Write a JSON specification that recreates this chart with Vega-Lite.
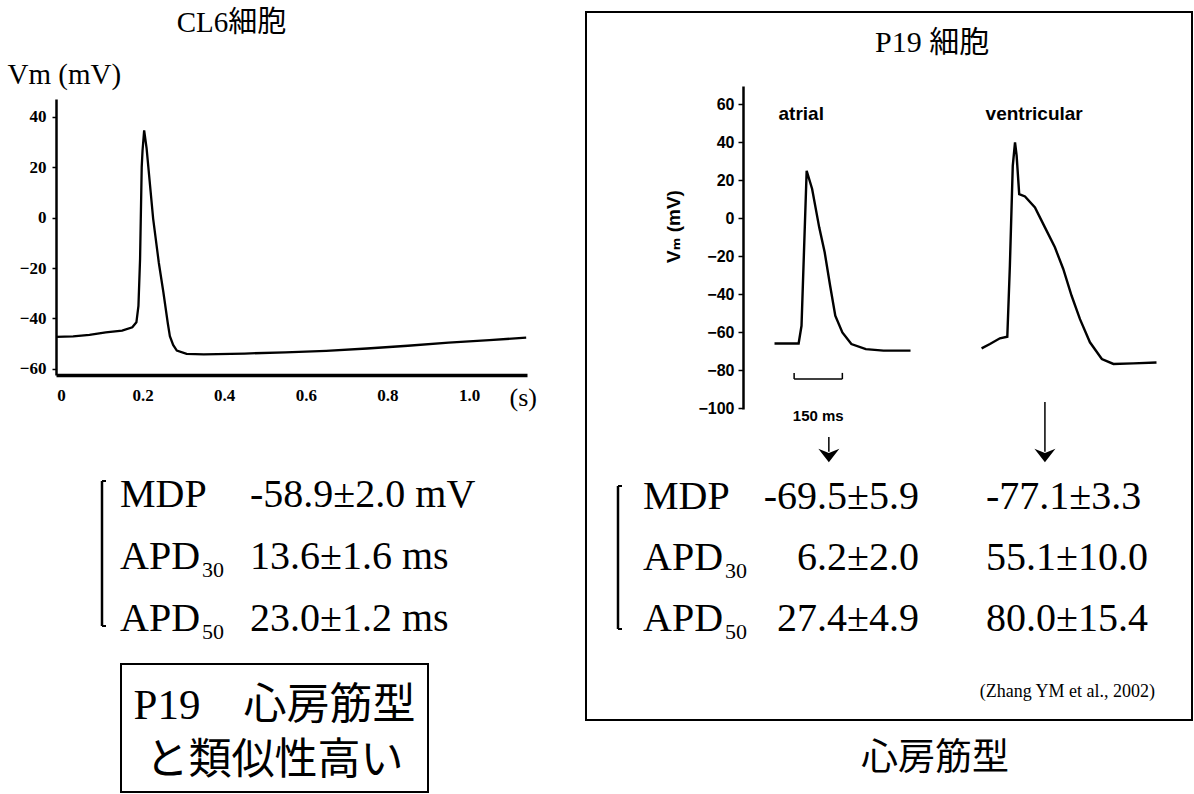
{
  "$schema": "https://vega.github.io/schema/vega-lite/v6.json",
  "padding": {"left": 7, "top": 9, "right": 0, "bottom": 0},
  "background": "white",
  "config": {"view": {"stroke": null}, "text": {"color": "black"}},
  "datasets": {
    "cl6": [
      {"t": -0.012, "v": -47.3}, {"t": 0.03, "v": -47.1}, {"t": 0.07, "v": -46.5}, {"t": 0.11, "v": -45.5},
      {"t": 0.15, "v": -44.8}, {"t": 0.175, "v": -43.5}, {"t": 0.185, "v": -41.5}, {"t": 0.19, "v": -35},
      {"t": 0.194, "v": -16.3}, {"t": 0.198, "v": 20}, {"t": 0.2, "v": 26.5}, {"t": 0.204, "v": 34.6},
      {"t": 0.21, "v": 27.4}, {"t": 0.226, "v": -0.4}, {"t": 0.24, "v": -18}, {"t": 0.251, "v": -29.5},
      {"t": 0.262, "v": -42}, {"t": 0.267, "v": -47}, {"t": 0.275, "v": -50.5}, {"t": 0.284, "v": -52.7},
      {"t": 0.308, "v": -54}, {"t": 0.35, "v": -54.2}, {"t": 0.45, "v": -53.9}, {"t": 0.55, "v": -53.4},
      {"t": 0.65, "v": -52.8}, {"t": 0.75, "v": -51.9}, {"t": 0.85, "v": -50.8}, {"t": 0.95, "v": -49.6},
      {"t": 1.05, "v": -48.6}, {"t": 1.14, "v": -47.6}
    ],
    "p19": [
      {"cell": "atrial", "t": 98, "v": -66}, {"cell": "atrial", "t": 173, "v": -66},
      {"cell": "atrial", "t": 182, "v": -56.7}, {"cell": "atrial", "t": 198, "v": 24.9},
      {"cell": "atrial", "t": 215, "v": 15.3}, {"cell": "atrial", "t": 237, "v": -4.9},
      {"cell": "atrial", "t": 254, "v": -18}, {"cell": "atrial", "t": 271, "v": -35.6},
      {"cell": "atrial", "t": 287, "v": -51.4}, {"cell": "atrial", "t": 309, "v": -60.2},
      {"cell": "atrial", "t": 337, "v": -66.3}, {"cell": "atrial", "t": 382, "v": -69},
      {"cell": "atrial", "t": 437, "v": -69.8}, {"cell": "atrial", "t": 521, "v": -69.8},
      {"cell": "ventricular", "t": 742, "v": -68.6}, {"cell": "ventricular", "t": 768, "v": -66.3},
      {"cell": "ventricular", "t": 799, "v": -63.3}, {"cell": "ventricular", "t": 822, "v": -62.5},
      {"cell": "ventricular", "t": 830, "v": -25.1}, {"cell": "ventricular", "t": 839, "v": 27.5},
      {"cell": "ventricular", "t": 846, "v": 39.8}, {"cell": "ventricular", "t": 851, "v": 32.8},
      {"cell": "ventricular", "t": 859, "v": 12.6}, {"cell": "ventricular", "t": 877, "v": 11.4},
      {"cell": "ventricular", "t": 908, "v": 5.6}, {"cell": "ventricular", "t": 939, "v": -4.9},
      {"cell": "ventricular", "t": 970, "v": -15.4}, {"cell": "ventricular", "t": 996, "v": -26.8},
      {"cell": "ventricular", "t": 1022, "v": -40.9}, {"cell": "ventricular", "t": 1048, "v": -53.2},
      {"cell": "ventricular", "t": 1079, "v": -65.4}, {"cell": "ventricular", "t": 1116, "v": -74.2},
      {"cell": "ventricular", "t": 1152, "v": -76.8}, {"cell": "ventricular", "t": 1214, "v": -76.5},
      {"cell": "ventricular", "t": 1286, "v": -76}
    ],
    "cl6_table": [
      {"param": "MDP", "name": "MDP", "sub": "", "value": "-58.9±2.0 mV"},
      {"param": "APD30", "name": "APD", "sub": "30", "value": "13.6±1.6 ms"},
      {"param": "APD50", "name": "APD", "sub": "50", "value": "23.0±1.2 ms"}
    ],
    "p19_table": [
      {"param": "MDP", "name": "MDP", "sub": "", "atrial": "-69.5±5.9", "ventricular": "-77.1±3.3"},
      {"param": "APD30", "name": "APD", "sub": "30", "atrial": "6.2±2.0", "ventricular": "55.1±10.0"},
      {"param": "APD50", "name": "APD", "sub": "50", "atrial": "27.4±4.9", "ventricular": "80.0±15.4"}
    ]
  },
  "hconcat": [
    {
      "vconcat": [
        {"data": {"values": []}, "mark": "point", "width": 471, "height": 87},
        {
          "width": 471,
          "height": 276,
          "title": {"text": "CL6細胞", "frame": "group", "anchor": "middle", "dx": -60, "offset": -1, "baseline": "alphabetic", "font": "Liberation Serif, Noto Sans CJK JP", "fontSize": 29, "fontWeight": "normal", "color": "black"},
          "data": {"name": "cl6"},
          "mark": {"type": "line", "color": "black", "strokeWidth": 2.3},
          "encoding": {
            "x": {
              "field": "t", "type": "quantitative",
              "scale": {"domain": [-0.012, 1.142], "nice": false, "zero": false},
              "axis": {
                "values": [0, 0.2, 0.4, 0.6, 0.8, 1.0],
                "labelExpr": "datum.value == 0 ? '0' : format(datum.value, '.1f')",
                "ticks": false, "labelPadding": 12, "labelFont": "Liberation Serif", "labelFontSize": 17,
                "labelFontWeight": "bold", "labelColor": "black", "labelFlush": false,
                "domainColor": "black", "domainWidth": 3.5, "grid": false,
                "title": "(s)", "titleX": 453, "titleY": 22, "titleAlign": "left", "titleBaseline": "middle",
                "titleFont": "Liberation Serif", "titleFontSize": 26, "titleFontWeight": "normal", "titleColor": "black"
              }
            },
            "y": {
              "field": "v", "type": "quantitative",
              "scale": {"domain": [-62.4, 47], "nice": false, "zero": false},
              "axis": {
                "values": [40, 20, 0, -20, -40, -60],
                "tickSize": 4, "tickColor": "black", "tickWidth": 1.5, "labelPadding": 6,
                "labelFont": "Liberation Serif", "labelFontSize": 17, "labelFontWeight": "bold", "labelColor": "black",
                "domainColor": "black", "domainWidth": 2.5, "grid": false,
                "title": "Vm (mV)", "titleAngle": 0, "titleAlign": "left", "titleBaseline": "alphabetic",
                "titleX": -49, "titleY": -16, "titleFont": "Liberation Serif", "titleFontSize": 29,
                "titleFontWeight": "normal", "titleColor": "black"
              }
            }
          }
        },
        {
          "width": 471,
          "height": 289,
          "data": {"name": "cl6_table"},
          "layer": [
            {
              "transform": [{"filter": "datum.param == 'MDP'"}],
              "mark": {"type": "rule", "strokeWidth": 2.5, "color": "black", "xOffset": -18, "yOffset": -26, "y2Offset": -5},
              "encoding": {
                "x": {"datum": "param", "type": "nominal", "scale": {"type": "point", "domain": ["param", "value"], "range": [64, 194], "padding": 0}, "axis": null},
                "y": {"datum": "MDP", "type": "nominal", "scale": {"type": "point", "domain": ["MDP", "APD30", "APD50"], "range": [132, 256], "padding": 0}, "axis": null},
                "y2": {"datum": "APD50"}
              }
            },
            {
              "transform": [{"filter": "datum.param == 'MDP'"}],
              "mark": {"type": "rule", "strokeWidth": 2, "color": "black", "xOffset": -18, "x2Offset": -14, "yOffset": -26},
              "encoding": {"x": {"datum": "param", "type": "nominal"}, "x2": {"datum": "param"}, "y": {"datum": "MDP", "type": "nominal"}}
            },
            {
              "transform": [{"filter": "datum.param == 'MDP'"}],
              "mark": {"type": "rule", "strokeWidth": 2, "color": "black", "xOffset": -18, "x2Offset": -14, "yOffset": -5},
              "encoding": {"x": {"datum": "param", "type": "nominal"}, "x2": {"datum": "param"}, "y": {"datum": "APD50", "type": "nominal"}}
            },
            {
              "mark": {"type": "text", "align": "left", "baseline": "alphabetic", "font": "Liberation Serif", "fontSize": 40},
              "encoding": {
                "x": {"datum": "param", "type": "nominal"},
                "y": {"field": "param", "type": "nominal"},
                "text": {"field": "name"}
              }
            },
            {
              "mark": {"type": "text", "align": "left", "baseline": "alphabetic", "font": "Liberation Serif", "fontSize": 22, "dx": 82, "dy": 8},
              "encoding": {
                "x": {"datum": "param", "type": "nominal"},
                "y": {"field": "param", "type": "nominal"},
                "text": {"field": "sub"}
              }
            },
            {
              "mark": {"type": "text", "align": "left", "baseline": "alphabetic", "font": "Liberation Serif", "fontSize": 40},
              "encoding": {
                "x": {"datum": "value", "type": "nominal"},
                "y": {"field": "param", "type": "nominal"},
                "text": {"field": "value"}
              }
            }
          ]
        },
        {
          "hconcat": [
            {"data": {"values": []}, "mark": "point", "width": 65, "height": 1},
            {
              "width": 307,
              "height": 128,
              "view": {"stroke": "black", "strokeWidth": 2},
              "data": {"values": [{"line": 1, "text": "P19　心房筋型"}, {"line": 2, "text": "と類似性高い"}]},
              "mark": {"type": "text", "font": "Liberation Serif, Noto Sans CJK JP", "fontSize": 43, "baseline": "middle", "align": "center"},
              "encoding": {
                "text": {"field": "text"},
                "y": {"field": "line", "type": "ordinal", "scale": {"type": "point", "range": [42, 97], "padding": 0}, "axis": null}
              }
            }
          ],
          "spacing": 0,
          "bounds": "flush"
        }
      ],
      "spacing": 0,
      "bounds": "flush"
    },
    {
      "vconcat": [
        {
          "width": 606,
          "height": 708,
          "view": {"stroke": "black", "strokeWidth": 2},
          "layer": [
            {
              "data": {"name": "p19"},
              "layer": [
                {
                  "mark": {"type": "line", "color": "black", "strokeWidth": 2.4},
                  "encoding": {
                    "x": {"field": "t", "type": "quantitative", "scale": {"domain": [0, 1300], "range": [157, 575], "nice": false, "zero": false}, "axis": null},
                    "y": {
                      "field": "v", "type": "quantitative",
                      "scale": {"domain": [-100.5, 69.5], "range": [397, 74], "nice": false, "zero": false},
                      "axis": {
                        "orient": "left", "offset": -157,
                        "values": [60, 40, 20, 0, -20, -40, -60, -80, -100],
                        "tickSize": 5, "tickWidth": 1.5, "tickColor": "black", "labelPadding": 4,
                        "labelFont": "Liberation Sans", "labelFontWeight": "bold", "labelFontSize": 16, "labelColor": "black",
                        "labelFlush": false, "labelOverlap": false,
                        "domainColor": "black", "domainWidth": 2.5, "grid": false,
                        "title": "Vₘ (mV)", "titleX": -70, "titleY": 214, "titleAngle": -90,
                        "titleAlign": "center", "titleBaseline": "middle",
                        "titleFont": "Liberation Sans, DejaVu Sans", "titleFontSize": 19, "titleFontWeight": "bold", "titleColor": "black"
                      }
                    },
                    "detail": {"field": "cell"}
                  }
                },
                {
                  "transform": [{"aggregate": [{"op": "min", "field": "t", "as": "t0"}], "groupby": ["cell"]}],
                  "mark": {"type": "text", "align": "left", "baseline": "middle", "font": "Liberation Sans", "fontWeight": "bold", "fontSize": 19, "dx": 4},
                  "encoding": {
                    "x": {"field": "t0", "type": "quantitative"},
                    "y": {"datum": 54.7, "type": "quantitative"},
                    "text": {"field": "cell"}
                  }
                },
                {
                  "data": {"values": [{"heading": "P19 細胞"}]},
                  "mark": {"type": "text", "align": "center", "baseline": "alphabetic", "font": "Liberation Serif, Noto Sans CJK JP", "fontSize": 30},
                  "encoding": {
                    "x": {"datum": 588, "type": "quantitative"},
                    "y": {"datum": 87.4, "type": "quantitative"},
                    "text": {"field": "heading"}
                  }
                },
                {
                  "data": {"values": [{"bar": "150 ms"}]},
                  "layer": [
                    {
                      "mark": {"type": "rule", "strokeWidth": 1.5, "color": "black"},
                      "encoding": {"x": {"datum": 159, "type": "quantitative"}, "x2": {"datum": 309}, "y": {"datum": -84.7, "type": "quantitative"}}
                    },
                    {
                      "mark": {"type": "rule", "strokeWidth": 1.5, "color": "black"},
                      "encoding": {"x": {"datum": 159, "type": "quantitative"}, "y": {"datum": -84.7, "type": "quantitative"}, "y2": {"datum": -81.5}}
                    },
                    {
                      "mark": {"type": "rule", "strokeWidth": 1.5, "color": "black"},
                      "encoding": {"x": {"datum": 309, "type": "quantitative"}, "y": {"datum": -84.7, "type": "quantitative"}, "y2": {"datum": -81.5}}
                    },
                    {
                      "mark": {"type": "text", "align": "center", "baseline": "middle", "font": "Liberation Sans", "fontWeight": "bold", "fontSize": 15},
                      "encoding": {"x": {"datum": 234, "type": "quantitative"}, "y": {"datum": -104, "type": "quantitative"}, "text": {"field": "bar"}}
                    }
                  ]
                },
                {
                  "data": {"values": [{"arrow": "atrial"}]},
                  "layer": [
                    {
                      "mark": {"type": "rule", "strokeWidth": 1.5, "color": "black"},
                      "encoding": {"x": {"datum": 267, "type": "quantitative"}, "y": {"datum": -115.3, "type": "quantitative"}, "y2": {"datum": -123}}
                    },
                    {
                      "mark": {"type": "point", "shape": "M-1,-0.65L0,0.65L1,-0.65L0,-0.25Z", "size": 441, "filled": true, "color": "black", "opacity": 1},
                      "encoding": {"x": {"datum": 267, "type": "quantitative"}, "y": {"datum": -125, "type": "quantitative"}}
                    }
                  ]
                },
                {
                  "data": {"values": [{"arrow": "ventricular"}]},
                  "layer": [
                    {
                      "mark": {"type": "rule", "strokeWidth": 1.5, "color": "black"},
                      "encoding": {"x": {"datum": 939, "type": "quantitative"}, "y": {"datum": -96.8, "type": "quantitative"}, "y2": {"datum": -123}}
                    },
                    {
                      "mark": {"type": "point", "shape": "M-1,-0.65L0,0.65L1,-0.65L0,-0.25Z", "size": 441, "filled": true, "color": "black", "opacity": 1},
                      "encoding": {"x": {"datum": 939, "type": "quantitative"}, "y": {"datum": -125, "type": "quantitative"}}
                    }
                  ]
                }
              ]
            },
            {
              "data": {"name": "p19_table"},
              "layer": [
                {
                  "transform": [{"filter": "datum.param == 'MDP'"}],
                  "mark": {"type": "rule", "strokeWidth": 2.5, "color": "black", "xOffset": -25, "yOffset": -23, "y2Offset": -2},
                  "encoding": {
                    "x": {"datum": "param", "type": "nominal", "scale": {"type": "point", "domain": ["param", "atrial", "ventricular"], "range": [57, 400], "padding": 0}, "axis": null},
                    "y": {"datum": "MDP", "type": "nominal", "scale": {"type": "point", "domain": ["MDP", "APD30", "APD50", "ref"], "range": [497, 680], "padding": 0}, "axis": null},
                    "y2": {"datum": "APD50"}
                  }
                },
                {
                  "transform": [{"filter": "datum.param == 'MDP'"}],
                  "mark": {"type": "rule", "strokeWidth": 2, "color": "black", "xOffset": -25, "x2Offset": -21, "yOffset": -23},
                  "encoding": {"x": {"datum": "param", "type": "nominal"}, "x2": {"datum": "param"}, "y": {"datum": "MDP", "type": "nominal"}}
                },
                {
                  "transform": [{"filter": "datum.param == 'MDP'"}],
                  "mark": {"type": "rule", "strokeWidth": 2, "color": "black", "xOffset": -25, "x2Offset": -21, "yOffset": -2},
                  "encoding": {"x": {"datum": "param", "type": "nominal"}, "x2": {"datum": "param"}, "y": {"datum": "APD50", "type": "nominal"}}
                },
                {
                  "mark": {"type": "text", "align": "left", "baseline": "alphabetic", "font": "Liberation Serif", "fontSize": 40},
                  "encoding": {"x": {"datum": "param", "type": "nominal"}, "y": {"field": "param", "type": "nominal"}, "text": {"field": "name"}}
                },
                {
                  "mark": {"type": "text", "align": "left", "baseline": "alphabetic", "font": "Liberation Serif", "fontSize": 22, "dx": 82, "dy": 8},
                  "encoding": {"x": {"datum": "param", "type": "nominal"}, "y": {"field": "param", "type": "nominal"}, "text": {"field": "sub"}}
                },
                {
                  "mark": {"type": "text", "align": "right", "baseline": "alphabetic", "font": "Liberation Serif", "fontSize": 40, "dx": 104.5},
                  "encoding": {"x": {"datum": "atrial", "type": "nominal"}, "y": {"field": "param", "type": "nominal"}, "text": {"field": "atrial"}}
                },
                {
                  "mark": {"type": "text", "align": "left", "baseline": "alphabetic", "font": "Liberation Serif", "fontSize": 40},
                  "encoding": {"x": {"datum": "ventricular", "type": "nominal"}, "y": {"field": "param", "type": "nominal"}, "text": {"field": "ventricular"}}
                },
                {
                  "data": {"values": [{"ref": "(Zhang YM et al., 2002)"}]},
                  "mark": {"type": "text", "align": "right", "baseline": "alphabetic", "font": "Liberation Serif", "fontSize": 18, "dx": 169, "dy": 5},
                  "encoding": {"x": {"datum": "ventricular", "type": "nominal"}, "y": {"datum": "ref", "type": "nominal"}, "text": {"field": "ref"}}
                }
              ]
            }
          ],
          "resolve": {"scale": {"x": "independent", "y": "independent"}, "axis": {"x": "independent", "y": "independent"}}
        },
        {
          "width": 606,
          "height": 60,
          "data": {"values": [{"caption": "心房筋型"}]},
          "mark": {"type": "text", "font": "Noto Sans CJK JP", "fontSize": 37, "dx": 46, "dy": 9, "baseline": "middle", "align": "center"},
          "encoding": {"text": {"field": "caption"}}
        }
      ],
      "spacing": 0,
      "bounds": "flush"
    }
  ],
  "spacing": 48,
  "bounds": "full"
}
